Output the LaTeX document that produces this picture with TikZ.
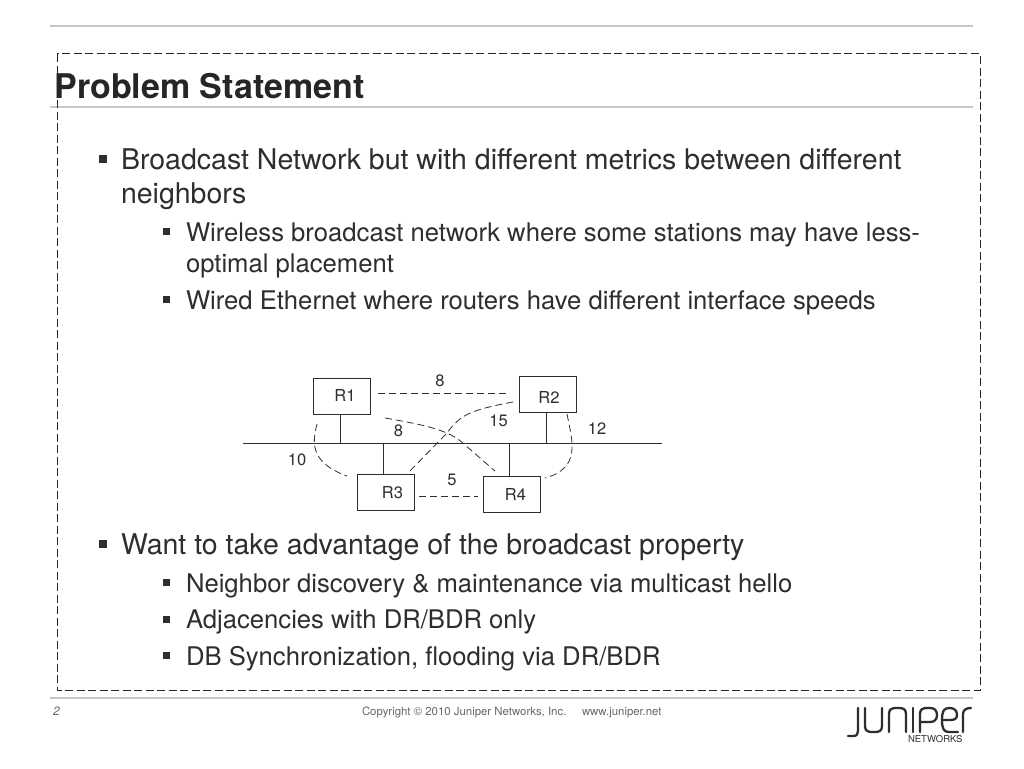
\documentclass[tikz,border=0pt]{standalone}
\usepackage{fontspec}
\setmainfont{TeX Gyre Heros}
\definecolor{ink}{HTML}{2E2E2E}
\definecolor{rule}{HTML}{C8C8C8}
\tikzset{
  x=1pt,y=-1pt,
  txt/.style={anchor=base west,inner sep=0pt,outer sep=0pt,text=ink},
  lone/.style={txt,font=\fontsize{28.5}{28.5}\selectfont},
  ltwo/.style={txt,font=\fontsize{25.65}{25.65}\selectfont},
  bulA/.style={fill=ink,draw=none,minimum size=8pt,inner sep=0pt},
  bulB/.style={fill=ink,draw=none,minimum size=7pt,inner sep=0pt},
  router/.style={draw=ink,fill=white,line width=0.9pt,inner sep=0pt,minimum width=57pt,minimum height=36.5pt},
  lan/.style={draw=ink,line width=0.9pt},
  link/.style={draw=ink,line width=0.8pt,dash pattern=on 7pt off 4pt},
  num/.style={inner sep=0pt,text=ink,font=\fontsize{16.5}{16.5}\selectfont},
  rulel/.style={draw=rule,line width=1.2pt},
  logo/.style={draw=ink,line width=2.3pt,line cap=round,line join=round},
}
\begin{document}
\begin{tikzpicture}
\useasboundingbox (0,0) rectangle (1024,768);
\fill[white] (0,0) rectangle (1024,768);
\draw[rulel] (50,26) -- (973,26);
\draw[rulel,line width=1.5pt] (50,107) -- (973,107);
\draw[rulel,line width=1.5pt] (50,698) -- (973,698);
\draw[black!85,line width=1pt,dash pattern=on 8pt off 3.5pt] (57,54) rectangle (980,690);
\node[txt,font=\bfseries\fontsize{34}{34}\selectfont,text=black!85] (title) at (54.5,98.5) {Problem Statement};
\node[bulA] (b1) at (103,159) {};
\node[lone] (t1) at (121,169) {Broadcast Network but with different metrics between different};
\node[lone] (t1b) at (121,203) {neighbors};
\node[bulB] (b2) at (166,231) {};
\node[ltwo] (t2) at (186,241) {Wireless broadcast network where some stations may have less-};
\node[ltwo] (t2b) at (186,272) {optimal placement};
\node[bulB] (b3) at (166,299) {};
\node[ltwo] (t3) at (186,309) {Wired Ethernet where routers have different interface speeds};
\node[bulA] (b4) at (103,544) {};
\node[lone] (t4) at (121,554) {Want to take advantage of the broadcast property};
\node[bulB] (b5) at (166,582) {};
\node[ltwo] (t5) at (186,592) {Neighbor discovery \& maintenance via multicast hello};
\node[bulB] (b6) at (166,619) {};
\node[ltwo] (t6) at (186,628) {Adjacencies with DR/BDR only};
\node[bulB] (b7) at (166,655) {};
\node[ltwo] (t7) at (186,665) {DB Synchronization, flooding via DR/BDR};
% network
\node[router] (R1) at (341.5,396.5) {};
\node[router] (R2) at (548,394.5) {};
\node[router] (R3) at (385.5,492.5) {};
\node[router] (R4) at (511.5,494.5) {};
\node[num] (lr1) at (345,395) {R1};
\node[num] (lr2) at (549,397.5) {R2};
\node[num] (lr3) at (392.5,493) {R3};
\node[num] (lr4) at (515.5,494.5) {R4};
\coordinate (busL) at (243,443);
\coordinate (busR) at (662,443);
\draw[lan] (busL) -- (busR);
\draw[lan] (R1.south -| 340,0) -- (340,443);
\draw[lan] (R2.south -| 546,0) -- (546,443);
\draw[lan] (R3.north -| 383,0) -- (383,443);
\draw[lan] (R4.north -| 509,0) -- (509,443);
\coordinate (a1) at (378,393.5); \coordinate (a2) at (510,393.5);
\draw[link] (a1) -- (a2);
\coordinate (c1) at (419,496); \coordinate (c2) at (478,496);
\draw[link] (c1) -- (c2);
\coordinate (d1) at (317,424); \coordinate (d2) at (347,476);
\draw[link] (d1) .. controls (313,440) and (308,462) .. (d2);
\coordinate (e1) at (513,402); \coordinate (e2) at (408,473);
\draw[link] (e1) .. controls (470,410) and (460,415) .. (447,433) -- (e2);
\coordinate (f1) at (385,418); \coordinate (f2) at (495,471);
\draw[link] (f1) .. controls (425,425) and (450,430) .. (465,445) -- (f2);
\coordinate (g1) at (567,414); \coordinate (g2) at (545,478);
\draw[link] (g1) .. controls (572,440) and (582,468) .. (g2);
\node[num] (n1) at (440,380.5) {8};
\node[num] (n2) at (398.5,430.5) {8};
\node[num] (n3) at (498.5,420.5) {15};
\node[num] (n4) at (597,429) {12};
\node[num] (n5) at (297,459.5) {10};
\node[num] (n6) at (452,479.5) {5};
% footer
\node[txt,font=\itshape\fontsize{12}{12}\selectfont,text=black!60] (pg) at (53,715) {2};
\node[txt,font=\fontsize{11.4}{11.4}\selectfont,text=black!60] (cp) at (362,715) {Copyright © 2010 Juniper Networks, Inc.};
\node[txt,font=\fontsize{11.4}{11.4}\selectfont,text=black!60] (web) at (582,715) {www.juniper.net};
% logo
\draw[logo] (848,736) -- (853,736) .. controls (857,736) and (858,734) .. (858,731) -- (858,708);
\draw[logo] (865,708) -- (865,726) .. controls (865,731) and (868,732) .. (872,732) -- (875,732) .. controls (879,732) and (882,731) .. (882,726) -- (882,708);
\draw[logo] (889,732) -- (889,714) .. controls (889,709) and (892,708) .. (896,708) -- (899,708) .. controls (903,708) and (906,709) .. (906,714) -- (906,732);
\draw[logo] (913,708) -- (913,732);
\draw[logo] (920,732) -- (920,714) .. controls (920,709) and (923,708) .. (927,708) -- (930,708) .. controls (934,708) and (937,710) .. (937,715) .. controls (937,720) and (934,722) .. (930,722) -- (920,722);
\draw[logo] (958,732) -- (949,732) .. controls (944,732) and (942,729) .. (942,720) .. controls (942,711) and (944,708) .. (949,708) .. controls (954,708) and (957,710) .. (957,715) .. controls (957,719) and (954,720) .. (950,720) -- (942,720);
\draw[logo] (963,732) -- (963,714) .. controls (963,710) and (966,708) .. (971,708);
\node[txt,font=\fontsize{9.5}{9.5}\selectfont] (nw) at (908,742) {NETWORKS};
\end{tikzpicture}
\end{document}
